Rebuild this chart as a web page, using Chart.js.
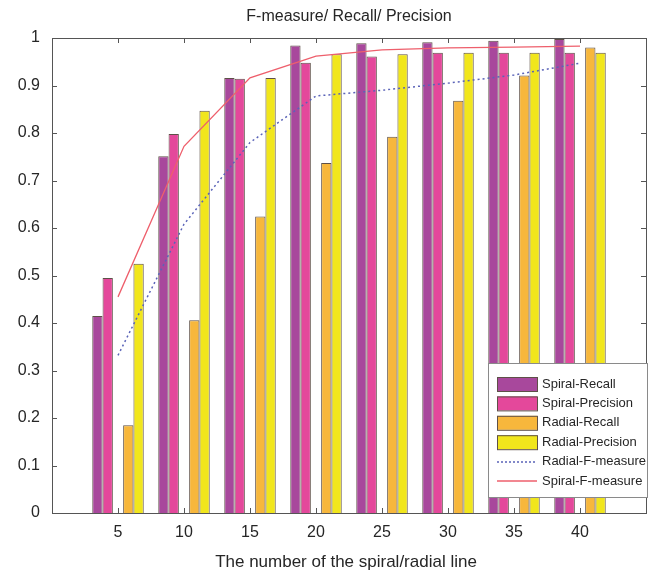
<!DOCTYPE html>
<html>
<head>
<meta charset="utf-8">
<script src="https://cdn.jsdelivr.net/npm/chart.js@4/dist/chart.umd.min.js"></script>
<style>
  html, body { margin: 0; padding: 0; background: #fff; }
  #wrap { width: 656px; height: 572px; }
</style>
</head>
<body>
<div id="wrap"><canvas id="c" width="656" height="572"></canvas></div>
<script>
// ---- data ----
const categories = ['5', '10', '15', '20', '25', '30', '35', '40'];
const spiralRecall    = [0.415, 0.751, 0.916, 0.984, 0.989, 0.991, 0.994, 0.998];
const spiralPrecision = [0.495, 0.798, 0.914, 0.948, 0.961, 0.969, 0.969, 0.969];
const radialRecall    = [0.185, 0.406, 0.624, 0.737, 0.792, 0.868, 0.921, 0.980];
const radialPrecision = [0.525, 0.847, 0.916, 0.966, 0.966, 0.969, 0.969, 0.969];
const radialF         = [0.332, 0.608, 0.780, 0.878, 0.890, 0.905, 0.922, 0.947];
const spiralF         = [0.455, 0.772, 0.916, 0.962, 0.975, 0.979, 0.981, 0.983];
const yTicks = [0, 0.1, 0.2, 0.3, 0.4, 0.5, 0.6, 0.7, 0.8, 0.9, 1];
const titleText = 'F-measure/ Recall/ Precision';
const xTitleText = 'The number of the spiral/radial line';

// padded with empty ends so the axis runs from 0 to 45
const xLabels = ['', ...categories, ''];
const pad = arr => [null, ...arr, null];

const FONT = "'Liberation Sans', Arial, sans-serif";
const AX = '#555555';

const legendOrder = [
  { label: 'Spiral-Recall',     type: 'bar',  color: '#a8489c' },
  { label: 'Spiral-Precision',  type: 'bar',  color: '#e4489b' },
  { label: 'Radial-Recall',     type: 'bar',  color: '#f7b73c' },
  { label: 'Radial-Precision',  type: 'bar',  color: '#f1e61c' },
  { label: 'Radial-F-measure',  type: 'dash', color: '#5a63b8' },
  { label: 'Spiral-F-measure',  type: 'line', color: '#ee5f6c' }
];

const barBorder = '#5e5048';

const boxPlugin = {
  id: 'boxPlugin',
  afterDatasetsDraw(chart) {
    const { ctx, chartArea: a, scales } = chart;
    ctx.save();
    ctx.strokeStyle = AX;
    ctx.lineWidth = 1;
    ctx.strokeRect(Math.round(a.left) + 0.5, Math.round(a.top) + 0.5,
                   Math.round(a.right - a.left), Math.round(a.bottom - a.top));
    // inward ticks
    const tl = 5;
    ctx.beginPath();
    yTicks.forEach(v => {
      const y = Math.round(scales.y.getPixelForValue(v)) + 0.5;
      ctx.moveTo(a.left, y); ctx.lineTo(a.left + tl, y);
      ctx.moveTo(a.right, y); ctx.lineTo(a.right - tl, y);
    });
    categories.forEach((c, i) => {
      const x = Math.round(scales.x.getPixelForValue(i + 1)) + 0.5;
      ctx.moveTo(x, a.bottom); ctx.lineTo(x, a.bottom - tl);
      ctx.moveTo(x, a.top); ctx.lineTo(x, a.top + tl);
    });
    ctx.stroke();
    ctx.restore();
  },
  afterDraw(chart) {
    const { ctx } = chart;
    ctx.save();
    // x axis title
    ctx.fillStyle = '#262626';
    ctx.font = '17px ' + FONT;
    ctx.textAlign = 'center';
    ctx.textBaseline = 'middle';
    ctx.fillText(xTitleText, 346, 562);

    // legend
    const lx = 488, ly = 363, lw = 159, lh = 134;
    ctx.fillStyle = '#ffffff';
    ctx.fillRect(lx, ly, lw, lh);
    ctx.strokeStyle = '#8a8a8a';
    ctx.lineWidth = 1;
    ctx.strokeRect(lx + 0.5, ly + 0.5, lw, lh);
    ctx.font = '13px ' + FONT;
    ctx.textAlign = 'left';
    ctx.textBaseline = 'middle';
    legendOrder.forEach((it, i) => {
      const cy = 384 + i * 19.4;
      if (it.type === 'bar') {
        ctx.fillStyle = it.color;
        ctx.fillRect(497, cy - 7, 40, 14);
        ctx.strokeStyle = barBorder;
        ctx.lineWidth = 1;
        ctx.strokeRect(497.5, cy - 6.5, 40, 14);
      } else {
        ctx.strokeStyle = it.color;
        ctx.lineWidth = 1.5;
        ctx.setLineDash(it.type === 'dash' ? [2, 2] : []);
        ctx.beginPath();
        ctx.moveTo(497, Math.round(cy));
        ctx.lineTo(537, Math.round(cy));
        ctx.stroke();
        ctx.setLineDash([]);
        ctx.lineWidth = 1;
      }
      ctx.fillStyle = '#262626';
      ctx.fillText(it.label, 542, cy);
    });
    ctx.restore();
  }
};

const barDs = (label, data, color) => ({
  type: 'bar', label, data: pad(data), backgroundColor: color,
  borderColor: barBorder, borderWidth: 1, order: 2,
  categoryPercentage: 0.78, barPercentage: 1.0
});

new Chart(document.getElementById('c'), {
  type: 'bar',
  data: {
    labels: xLabels,
    datasets: [
      barDs('Spiral-Recall', spiralRecall, legendOrder[0].color),
      barDs('Spiral-Precision', spiralPrecision, legendOrder[1].color),
      barDs('', categories.map(() => null), 'rgba(0,0,0,0)'),
      barDs('Radial-Recall', radialRecall, legendOrder[2].color),
      barDs('Radial-Precision', radialPrecision, legendOrder[3].color),
      {
        type: 'line', label: 'Radial-F-measure', data: pad(radialF),
        borderColor: legendOrder[4].color, borderWidth: 1.5, borderDash: [2, 3],
        pointRadius: 0, tension: 0, fill: false, order: 0, spanGaps: false
      },
      {
        type: 'line', label: 'Spiral-F-measure', data: pad(spiralF),
        borderColor: legendOrder[5].color, borderWidth: 1.3,
        pointRadius: 0, tension: 0, fill: false, order: 0, spanGaps: false
      }
    ]
  },
  options: {
    responsive: false,
    animation: false,
    devicePixelRatio: 1,
    layout: { padding: { left: 0, right: 4, top: 0, bottom: 0 } },
    plugins: {
      legend: { display: false },
      tooltip: { enabled: false },
      title: {
        display: true, text: titleText, fullSize: false,
        color: '#262626',
        font: { family: FONT, size: 16, weight: 'normal', lineHeight: 1.2 },
        padding: { top: 7.4, bottom: 11.4 }
      }
    },
    scales: {
      x: {
        type: 'category', offset: false,
        grid: { display: false, drawTicks: false },
        border: { display: false },
        ticks: {
          color: '#262626', padding: 10, autoSkip: false, maxRotation: 0,
          font: { family: FONT, size: 16 }
        },
        afterFit: s => { s.height = 59; }
      },
      y: {
        min: 0, max: 1,
        grid: { display: false, drawTicks: false },
        border: { display: false },
        ticks: {
          stepSize: 0.1, color: '#262626', padding: 12,
          font: { family: FONT, size: 16 },
          callback: v => String(+v.toFixed(1))
        },
        afterFit: s => { s.width = 52; }
      }
    }
  },
  plugins: [boxPlugin]
});
</script>
</body>
</html>
